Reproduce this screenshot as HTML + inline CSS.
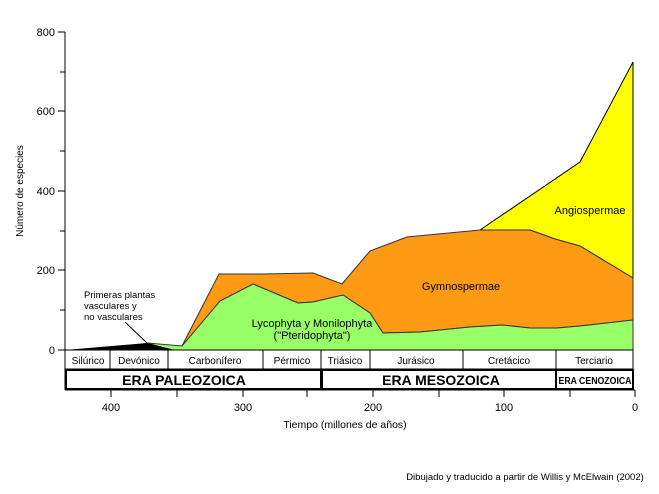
<!DOCTYPE html>
<html><head><meta charset="utf-8"><style>
body{margin:0;background:#fff}
svg text{font-family:"Liberation Sans",Arial,sans-serif;fill:#000}
</style></head><body>
<svg width="659" height="489" viewBox="0 0 659 489" xmlns="http://www.w3.org/2000/svg">
<rect width="659" height="489" fill="#fff"/>
<!-- yellow -->
<polygon points="480,230 580,162 633,62 633,278 580,246 555,239 530,230" fill="#ffff00" stroke="#000" stroke-width="1"/>
<!-- orange -->
<polygon points="182,346 219,274 263,274 313,273 342,284 370,251 407,237 480,230 530,230 555,239 580,246 633,278 633,320 580,326 557,328 530,328 502,325 470,327 420,332 383,333 370,313 343,295 313,302 298,303 253,284 220,301 182,348" fill="#ff9a14" stroke="#333" stroke-width="1"/>
<!-- green -->
<polygon points="147,343 182,346 220,301 253,284 298,303 313,302 343,295 370,313 383,333 420,332 470,327 502,325 530,328 557,328 580,326 633,320 633,350 170,350" fill="#99ff66" stroke="#333" stroke-width="1"/>
<!-- black -->
<polygon points="65,350 147,343 175,350" fill="#000"/>
<line x1="125" y1="322" x2="147" y2="343" stroke="#000"/>
<!-- axes -->
<line x1="65" y1="32" x2="65" y2="390" stroke="#000"/>
<g stroke="#000">
<line x1="58" y1="32" x2="65" y2="32"/><line x1="60" y1="72" x2="65" y2="72"/>
<line x1="58" y1="111" x2="65" y2="111"/><line x1="60" y1="151" x2="65" y2="151"/>
<line x1="58" y1="191" x2="65" y2="191"/><line x1="60" y1="231" x2="65" y2="231"/>
<line x1="58" y1="270" x2="65" y2="270"/><line x1="60" y1="310" x2="65" y2="310"/>
<line x1="58" y1="350" x2="65" y2="350"/>
</g>
<g font-size="11" text-anchor="end">
<text x="55" y="36">800</text><text x="55" y="115">600</text><text x="55" y="195">400</text><text x="55" y="274">200</text><text x="55" y="354">0</text>
</g>
<!-- period table -->
<rect x="65" y="350" width="568" height="19" fill="#fff" stroke="#000"/>
<g stroke="#000"><line x1="110" y1="350" x2="110" y2="369"/><line x1="168" y1="350" x2="168" y2="369"/><line x1="263" y1="350" x2="263" y2="369"/><line x1="321" y1="350" x2="321" y2="369"/><line x1="370" y1="350" x2="370" y2="369"/><line x1="463" y1="350" x2="463" y2="369"/><line x1="556" y1="350" x2="556" y2="369"/></g>
<g font-size="10" text-anchor="middle" fill="#222">
<text x="88" y="364">Silúrico</text><text x="139" y="364">Devónico</text><text x="215" y="364">Carbonífero</text><text x="292" y="364">Pérmico</text><text x="345" y="364">Triásico</text><text x="416" y="364">Jurásico</text><text x="509" y="364">Cretácico</text><text x="594" y="364">Terciario</text>
</g>
<rect x="66" y="370" width="255" height="19" fill="#fff" stroke="#000" stroke-width="2"/>
<rect x="322" y="370" width="234" height="19" fill="#fff" stroke="#000" stroke-width="2"/>
<rect x="556" y="370" width="77" height="19" fill="#fff" stroke="#000" stroke-width="2"/>
<text x="184" y="385" font-size="14" font-weight="bold" text-anchor="middle">ERA PALEOZOICA</text>
<text x="441" y="385" font-size="14" font-weight="bold" text-anchor="middle">ERA MESOZOICA</text>
<text x="595" y="384" font-size="10.5" font-weight="bold" text-anchor="middle" textLength="73" lengthAdjust="spacingAndGlyphs">ERA CENOZOICA</text>
<!-- x axis -->
<line x1="65" y1="390" x2="635" y2="390" stroke="#000"/>
<g stroke="#000"><line x1="111" y1="390" x2="111" y2="397"/><line x1="177" y1="390" x2="177" y2="397"/><line x1="243" y1="390" x2="243" y2="397"/><line x1="307" y1="390" x2="307" y2="397"/><line x1="373" y1="390" x2="373" y2="397"/><line x1="439" y1="390" x2="439" y2="397"/><line x1="504" y1="390" x2="504" y2="397"/><line x1="570" y1="390" x2="570" y2="397"/><line x1="635" y1="390" x2="635" y2="397"/></g>
<g font-size="11" text-anchor="middle"><text x="111" y="411">400</text><text x="243" y="411">300</text><text x="373" y="411">200</text><text x="504" y="411">100</text><text x="635" y="411">0</text></g>
<text x="345" y="428" font-size="10.5" text-anchor="middle">Tiempo (millones de años)</text>
<text x="23" y="191" font-size="10" text-anchor="middle" transform="rotate(-90 23 191)">Número de especies</text>
<!-- labels -->
<g font-size="9.5" fill="#222"><text x="84" y="298">Primeras plantas</text><text x="84" y="309">vasculares y</text><text x="84" y="320">no vasculares</text></g>
<g font-size="11" text-anchor="middle"><text x="312" y="327">Lycophyta y Monilophyta</text><text x="312" y="339">("Pteridophyta")</text>
<text x="461" y="290">Gymnospermae</text><text x="590" y="214">Angiospermae</text></g>
<text x="525" y="480" font-size="9.5" text-anchor="middle">Dibujado y traducido a partir de Willis y McElwain (2002)</text>
</svg>
</body></html>
